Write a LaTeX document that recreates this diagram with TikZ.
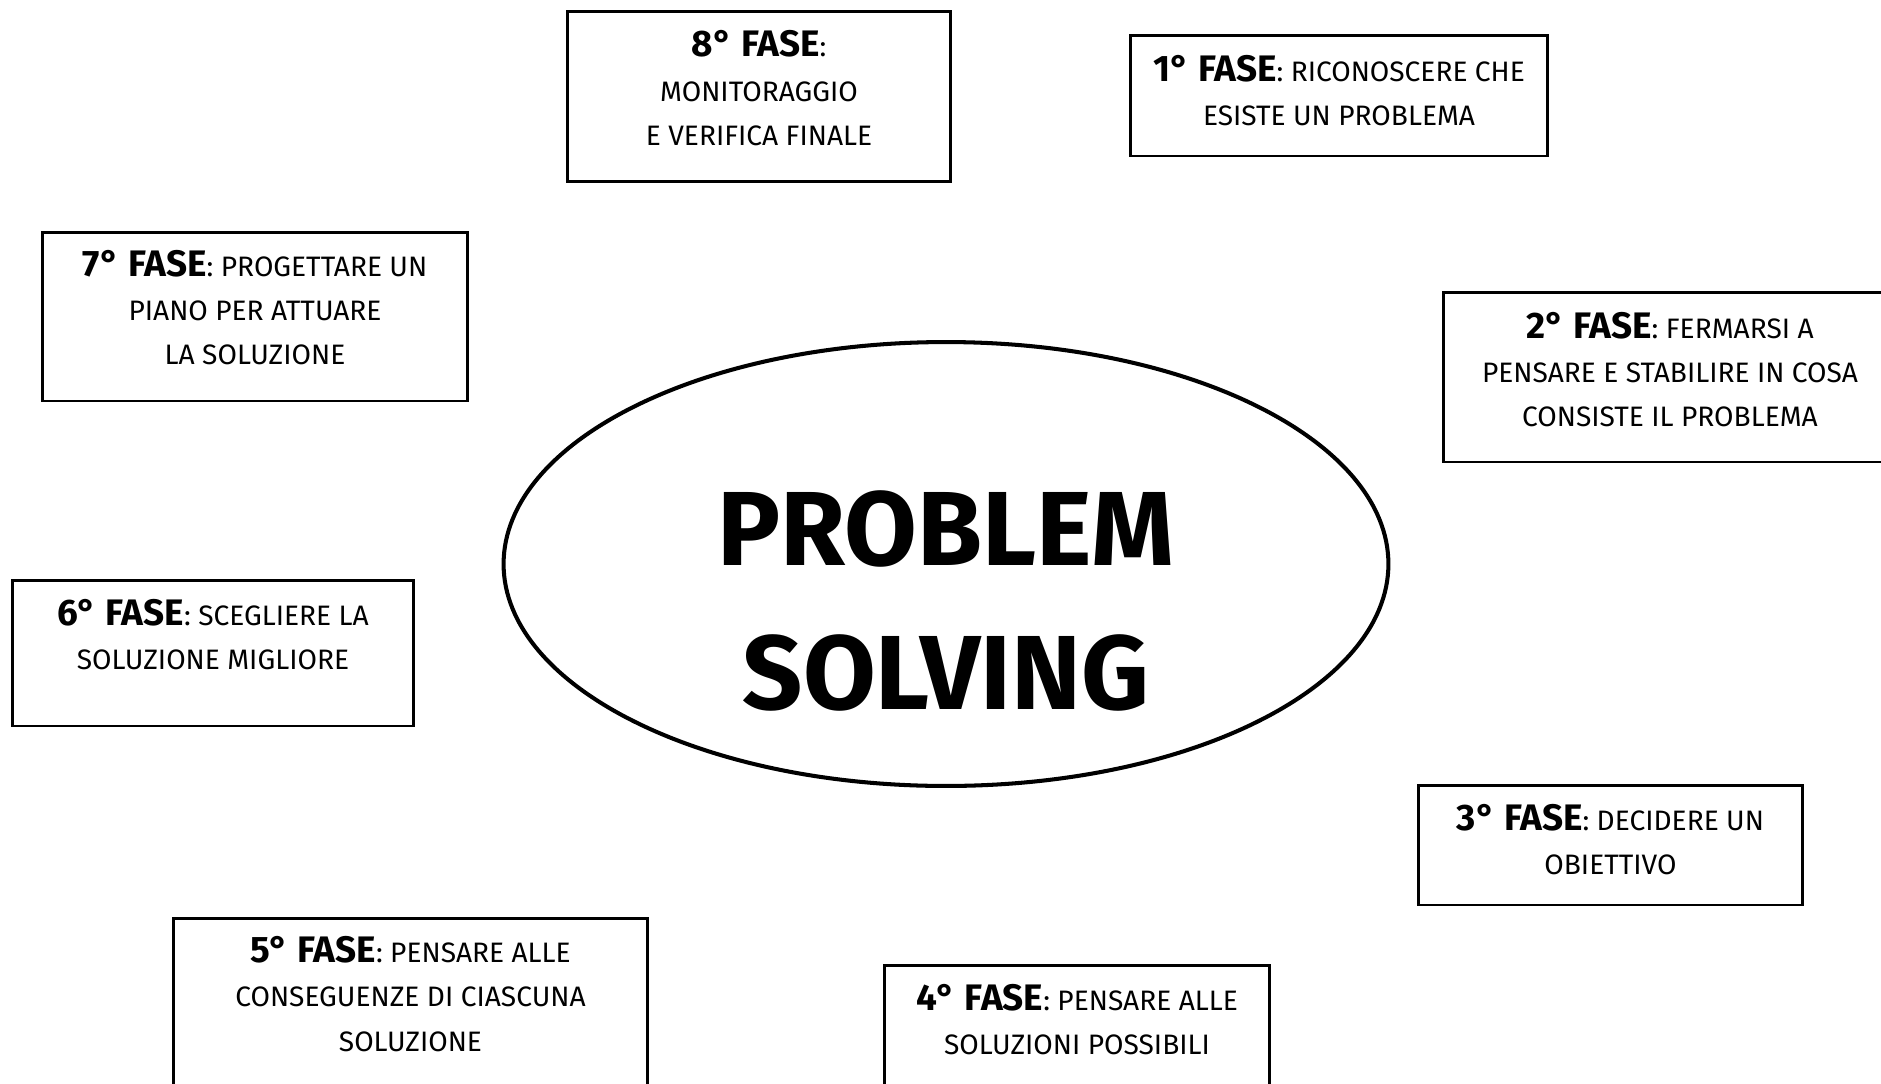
\documentclass[tikz,border=0pt]{standalone}
\usepackage{fontspec}
\setmainfont{Fira Sans}
\usepackage{tikz}
\usetikzlibrary{shapes}
\tikzstyle{fase} = [rectangle, draw=black, line width=1.7pt, inner sep=0pt,
align=center, text depth=0pt, font=\fontsize{16}{25.2}\selectfont]
\tikzstyle{titolo} = [ellipse, draw=black, line width=2.3pt, inner sep=0pt,
minimum width=17.7cm, minimum height=8.88cm, text height=5.84cm, text depth=0pt,
align=center, font=\fontsize{60}{82}\selectfont\bfseries]
\newcommand{\fasetag}[1]{{\fontsize{21}{25.2}\selectfont\bfseries #1° FASE}:}

\begin{document}
\begin{tikzpicture}[x=0.02cm, y=-0.02cm]
  \useasboundingbox (0,0) rectangle (1881,1083);
  % centre
  \node[titolo] (ps) at (946,564) {PROBLEM\\SOLVING};
  % phases, clockwise from the top right
  \node[fase, minimum width=8.36cm, minimum height=2.42cm, text height=1.2cm]
    (f1) at (1339,95.5) {\fasetag{1} RICONOSCERE CHE\\ESISTE UN PROBLEMA};
  \node[fase, minimum width=9.08cm, minimum height=3.4cm, text height=1.99cm]
    (f2) at (1670,377) {\fasetag{2} FERMARSI A\\PENSARE E STABILIRE IN COSA\\CONSISTE IL PROBLEMA};
  \node[fase, minimum width=7.7cm, minimum height=2.4cm, text height=1.18cm]
    (f3) at (1610.5,845) {\fasetag{3} DECIDERE UN\\OBIETTIVO};
  \node[fase, minimum width=7.72cm, minimum height=2.7cm, text height=0.88cm]
    (f4) at (1077,1032.5) {\fasetag{4} PENSARE ALLE\\SOLUZIONI POSSIBILI};
  \node[fase, minimum width=9.5cm, minimum height=3.64cm, text height=1.68cm]
    (f5) at (410.5,1009) {\fasetag{5} PENSARE ALLE\\CONSEGUENZE DI CIASCUNA\\SOLUZIONE};
  \node[fase, minimum width=8.04cm, minimum height=2.92cm, text height=0.67cm]
    (f6) at (213,653) {\fasetag{6} SCEGLIERE LA\\SOLUZIONE MIGLIORE};
  \node[fase, minimum width=8.52cm, minimum height=3.38cm, text height=1.94cm]
    (f7) at (255,316.5) {\fasetag{7} PROGETTARE UN\\PIANO PER ATTUARE\\LA SOLUZIONE};
  \node[fase, minimum width=7.68cm, minimum height=3.42cm, text height=1.96cm]
    (f8) at (759,96.5) {\fasetag{8}\\MONITORAGGIO\\E VERIFICA FINALE};
\end{tikzpicture}
\end{document}
